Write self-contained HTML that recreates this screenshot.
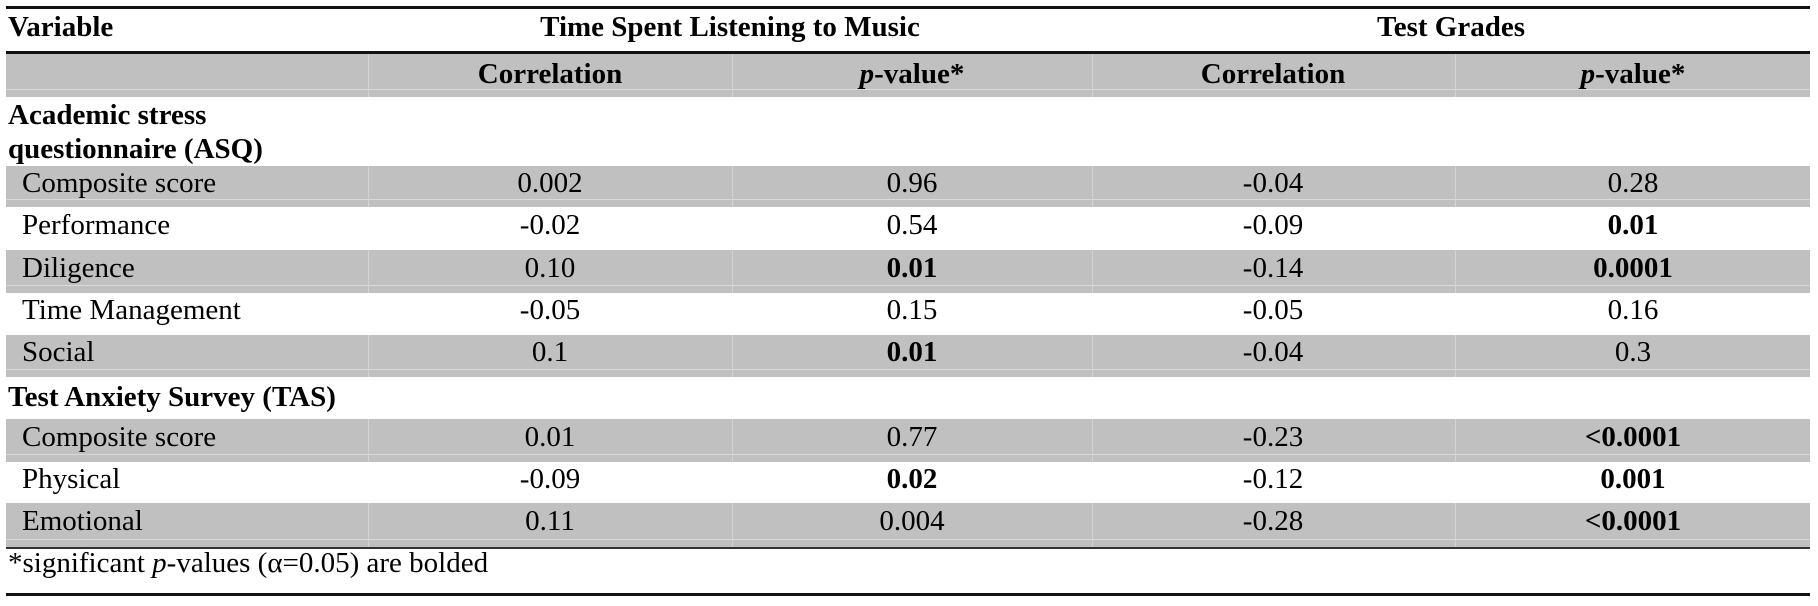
<!DOCTYPE html>
<html><head><meta charset="utf-8"><style>
body{margin:0;width:1818px;height:606px;background:#fff;overflow:hidden;position:relative;font-family:"Liberation Serif",serif;font-size:29px;color:#000}
.a{position:absolute}
.t{position:absolute;white-space:nowrap;line-height:1}
.c{transform:translateX(-50%)}
.b{font-weight:bold}
</style></head><body>
<div id="tbl"></div>
<script>
const rowLabels=["Composite score","Performance","Diligence","Time Management","Social","Composite score","Physical","Emotional"];
const musicCorr=["0.002","-0.02","0.10","-0.05","0.1","0.01","-0.09","0.11"];
const musicP=["0.96","0.54","0.01","0.15","0.01","0.77","0.02","0.004"];
const musicPBold=[false,false,true,false,true,false,true,false];
const gradeCorr=["-0.04","-0.09","-0.14","-0.05","-0.04","-0.23","-0.12","-0.28"];
const gradeP=["0.28","0.01","0.0001","0.16","0.3","<0.0001","0.001","<0.0001"];
const gradePBold=[false,true,true,false,false,true,true,true];
const rowTops=[166,207,250,293,335,419,462,503];
const rowBots=[207,250,293,335,377,462,503,547];
const rowGray=[true,false,true,false,true,true,false,true];

const root=document.getElementById('tbl');
const X0=6,X1=1810,divs=[368,732,1092,1455];
const centers=[550,912,1273,1633];
function box(x,y,w,h,bg,name){const d=document.createElement('div');d.className='a';d.style.cssText=`left:${x}px;top:${y}px;width:${w}px;height:${h}px;background:${bg}`;


root.appendChild(d);return d;}
function txt(s,x,cy,cls,name){const d=document.createElement('div');d.className='t '+cls;d.innerHTML=s;d.style.left=x+'px';d.style.top=(cy-15)+'px';


root.appendChild(d);return d;}
function grayRow(y0,y1,name){box(X0,y0,X1-X0,y1-y0,'#c0c0c0',name);
box(X0,y1-8,X1-X0,1,'#dadada','row-inner-line');
divs.forEach(x=>box(x,y0,1,y1-y0,'#d4d4d4','column-divider'));}

// lines
box(X0,6,X1-X0,3,'#111','top-rule');
box(X0,51,X1-X0,3,'#111','header-rule');
grayRow(54,97,'subheader-row');
txt('Variable',8,28,'b','variable-header');
txt('Time Spent Listening to Music',(divs[0]+divs[2])/2,28,'b c','music-header');
txt('Test Grades',(divs[2]+X1)/2,28,'b c','grades-header');
txt('Correlation',centers[0],75,'b c','music-correlation-header');
txt('<i>p</i>-value*',centers[1],75,'b c','music-pvalue-header');
txt('Correlation',centers[2],75,'b c','grades-correlation-header');
txt('<i>p</i>-value*',centers[3],75,'b c','grades-pvalue-header');
txt('Academic stress',8,116,'b','asq-section-title');
txt('questionnaire (ASQ)',8,150,'b','asq-section-title-2');
txt('Test Anxiety Survey (TAS)',8,398,'b','tas-section-title');

rowLabels.forEach((lab,i)=>{
  const y0=rowTops[i],y1=rowBots[i],cy=y0+(y1-y0)/2-3;
  if(rowGray[i]) grayRow(y0,y1,'row-band');
  txt(lab,22,cy,'','row-label');
  txt(musicCorr[i],centers[0],cy,'c','music-correlation');
  txt(musicP[i],centers[1],cy,'c'+(musicPBold[i]?' b':''),'music-pvalue');
  txt(gradeCorr[i],centers[2],cy,'c','grades-correlation');
  txt(gradeP[i].replace('<','&lt;'),centers[3],cy,'c'+(gradePBold[i]?' b':''),'grades-pvalue');
});
box(X0,547,X1-X0,2,'#333','table-bottom-rule');
txt('*significant <i>p</i>-values (α=0.05) are bolded',8,564,'','footnote');
box(X0,593,X1-X0,3,'#111','footer-rule');
</script>
</body></html>
